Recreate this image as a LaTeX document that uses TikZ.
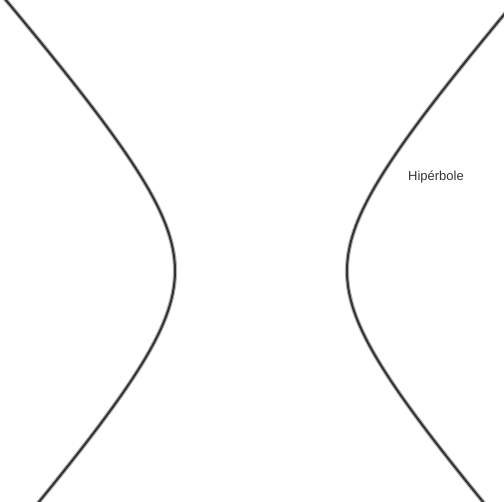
\documentclass[tikz,border=0pt]{standalone}
\usepackage{fontspec}
\setmainfont{Liberation Sans}
\begin{document}
\begin{tikzpicture}[x=1pt,y=1pt,
  halo/.style={line width=4.2pt,color=black!30},
  curve/.style={line width=2pt,color=black!80},
  lbl/.style={font=\fontsize{13}{15}\selectfont,text=black!80,inner sep=0pt}]
\useasboundingbox (0,0) rectangle (504,502);
\clip (0,0) rectangle (504,502);
\foreach \s in {-1,1}{
  \draw[halo] plot[variable=\t,domain=-2.8:2.8,samples=120,smooth] ({261+\s*86*cosh(\t)},{231-97*sinh(\t)});
  \draw[curve] plot[variable=\t,domain=-2.8:2.8,samples=120,smooth] ({261+\s*86*cosh(\t)},{231-97*sinh(\t)});
}
\node[lbl] (label) at (436,325) {Hipérbole};
\end{tikzpicture}
\end{document}
